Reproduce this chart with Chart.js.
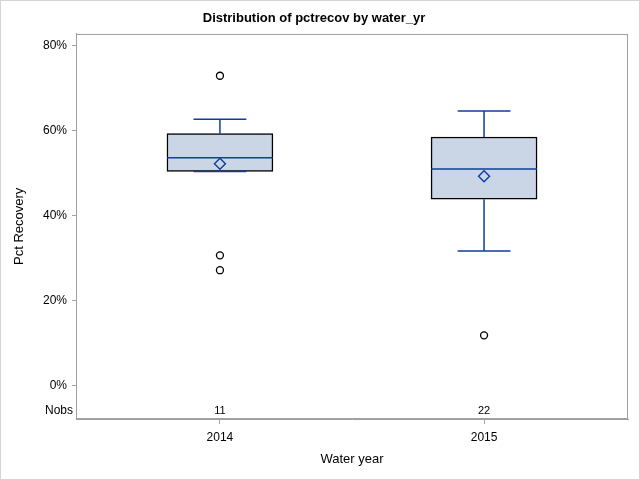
<!DOCTYPE html>
<html>
<head>
<meta charset="utf-8">
<script src="https://cdn.jsdelivr.net/npm/chart.js@4.4.1/dist/chart.umd.min.js"></script>
<style>
  html, body { margin: 0; padding: 0; background: #fff; }
  #wrap { width: 640px; height: 480px; }
</style>
</head>
<body>
<div id="wrap"><canvas id="c" width="640" height="480"></canvas></div>
<script>
// 箱线图数据（百分比）
const categories = ['2014', '2015'];
const nobs = [11, 22];
const q1Values = [50.4, 43.9];
const medianValues = [53.6, 51.0];
const q3Values = [59.3, 58.5];
const whiskerLow = [50.4, 31.7];
const whiskerHigh = [62.7, 64.6];
const meanValues = [52.2, 49.3];
const outlierValues = [[72.9, 30.7, 27.2], [11.9]];
const yTickValues = [0, 20, 40, 60, 80];

const BLUE = '#0e3f9f';
const FRAME = '#a0a0a0';
const FONT = "'Liberation Sans', Arial, sans-serif";
const BOX_HALF = 0.2;
const CAP_HALF = 0.1;

// 须线、须帽、中位线：用 null 点分段
const whiskerPts = [];
const medianPts = [];
categories.forEach((c, i) => {
    whiskerPts.push({ x: i, y: whiskerHigh[i] }, { x: i, y: q3Values[i] }, { x: i, y: null });
    whiskerPts.push({ x: i, y: q1Values[i] }, { x: i, y: whiskerLow[i] }, { x: i, y: null });
    whiskerPts.push({ x: i - CAP_HALF, y: whiskerHigh[i] }, { x: i + CAP_HALF, y: whiskerHigh[i] }, { x: i, y: null });
    whiskerPts.push({ x: i - CAP_HALF, y: whiskerLow[i] }, { x: i + CAP_HALF, y: whiskerLow[i] }, { x: i, y: null });
    medianPts.push({ x: i - BOX_HALF, y: medianValues[i] }, { x: i + BOX_HALF, y: medianValues[i] }, { x: i, y: null });
});
const outlierPts = outlierValues.flatMap((vals, i) => vals.map(v => ({ x: i, y: v })));

const framePlugin = {
    id: 'frame',
    afterDraw(chart) {
        const ctx = chart.ctx;
        const a = chart.chartArea;
        ctx.save();
        ctx.strokeStyle = FRAME;
        ctx.lineWidth = 1;
        ctx.strokeRect(Math.round(a.left) + 0.5, Math.round(a.top) + 0.5,
            Math.round(a.right - a.left) - 1, Math.round(a.bottom - a.top) - 1);
        ctx.strokeStyle = '#d4d4d4';
        ctx.strokeRect(0.5, 0.5, chart.width - 1, chart.height - 1);

        // Nobs 行
        const xs = chart.scales.x;
        const yRow = a.bottom - 8;
        ctx.fillStyle = '#000';
        ctx.textBaseline = 'middle';
        ctx.font = '12px ' + FONT;
        ctx.textAlign = 'right';
        ctx.fillText('Nobs', a.left - 3, yRow);
        ctx.font = '11px ' + FONT;
        ctx.textAlign = 'center';
        nobs.forEach((n, i) => ctx.fillText(String(n), xs.getPixelForValue(i), yRow));
        ctx.restore();
    }
};

new Chart(document.getElementById('c'), {
    type: 'bar',
    data: {
        datasets: [
            {
                type: 'line',
                data: medianPts,
                borderColor: BLUE,
                borderWidth: 1.5,
                pointRadius: 0,
                spanGaps: false,
                order: 2
            },
            {
                type: 'line',
                data: whiskerPts,
                borderColor: BLUE,
                borderWidth: 1.5,
                pointRadius: 0,
                spanGaps: false,
                order: 3
            },
            {
                type: 'scatter',
                data: meanValues.map((v, i) => ({ x: i, y: v })),
                pointStyle: 'rectRot',
                pointRadius: 5.5,
                borderColor: BLUE,
                backgroundColor: 'rgba(0,0,0,0)',
                borderWidth: 1.4,
                order: 1
            },
            {
                type: 'scatter',
                data: outlierPts,
                pointStyle: 'circle',
                pointRadius: 3.5,
                borderColor: '#000',
                backgroundColor: 'rgba(0,0,0,0)',
                borderWidth: 1.3,
                order: 1
            },
            {
                type: 'bar',
                data: categories.map((c, i) => ({ x: i, y: [q1Values[i], q3Values[i]] })),
                barThickness: 106,
                backgroundColor: '#cad5e5',
                borderColor: '#000',
                borderWidth: 1.5,
                borderSkipped: false,
                order: 4
            }
        ]
    },
    options: {
        responsive: false,
        devicePixelRatio: 1,
        animation: false,
        layout: { padding: { left: 0, right: 12, top: 0, bottom: 0 } },
        plugins: {
            legend: { display: false },
            tooltip: { enabled: false },
            title: {
                display: true,
                text: 'Distribution of pctrecov by water_yr',
                color: '#000',
                font: { family: FONT, size: 13, weight: 'bold' },
                padding: { top: 11, bottom: 7 }
            }
        },
        scales: {
            x: {
                type: 'linear',
                offset: false,
                min: -0.545,
                max: 1.545,
                afterBuildTicks: s => { s.ticks = categories.map((c, i) => ({ value: i })); },
                afterFit: s => { s.height = 61; },
                ticks: {
                    callback: v => categories[v],
                    color: '#000',
                    font: { family: FONT, size: 12 },
                    padding: 6,
                    maxRotation: 0
                },
                grid: { offset: false, drawOnChartArea: false, tickLength: 5, color: FRAME },
                border: { color: FRAME },
                title: {
                    display: true,
                    text: 'Water year',
                    color: '#000',
                    font: { family: FONT, size: 13 },
                    padding: { top: 4, bottom: 13 }
                }
            },
            y: {
                type: 'linear',
                min: -7.76,
                max: 82.8,
                afterBuildTicks: s => { s.ticks = yTickValues.map(v => ({ value: v })); },
                afterFit: s => { s.width = 76; },
                ticks: {
                    callback: v => v + '%',
                    color: '#000',
                    font: { family: FONT, size: 12 },
                    padding: 5
                },
                grid: { drawOnChartArea: false, tickLength: 4, color: FRAME },
                border: { color: FRAME },
                title: {
                    display: true,
                    text: 'Pct Recovery',
                    color: '#000',
                    font: { family: FONT, size: 13 },
                    padding: { top: 12, bottom: 0 }
                }
            }
        }
    },
    plugins: [framePlugin]
});
</script>
</body>
</html>
